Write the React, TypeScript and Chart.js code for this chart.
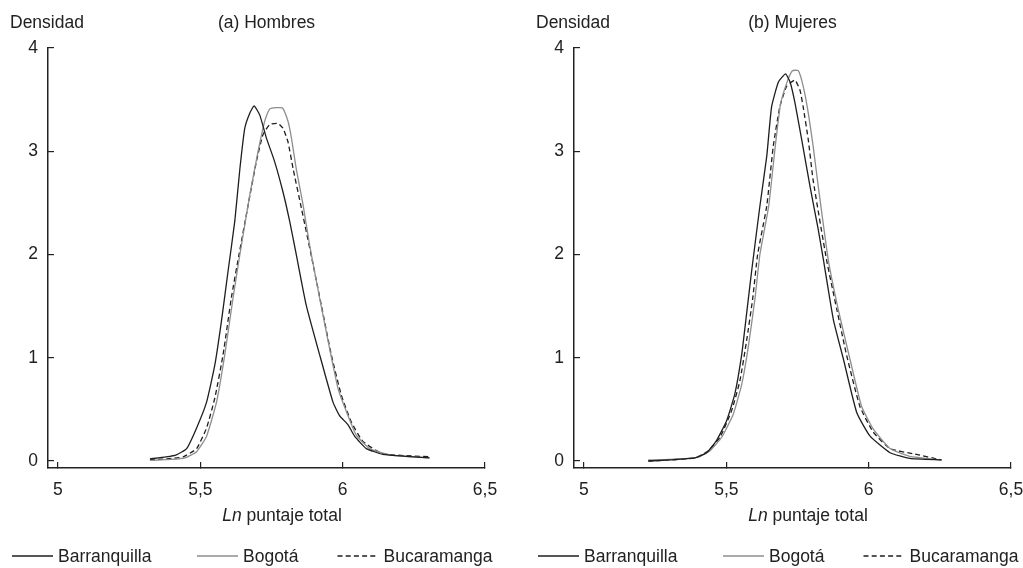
import React, { useEffect, useRef } from "react";
import { Chart, registerables } from "chart.js";

Chart.register(...registerables);

const FONT_FAMILY = "'Liberation Sans', Arial, sans-serif";
const FONT_SIZE = 17.5;
const TEXT_COLOR = "#222222";

const seriesNames = ["Barranquilla", "Bogotá", "Bucaramanga"];
const panelTitles = ["(a) Hombres", "(b) Mujeres"];
const yAxisLabel = "Densidad";
const xAxisLabelItalic = "Ln";
const xAxisLabelRest = " puntaje total";
const xTickValues = [5, 5.5, 6, 6.5];
const yTickValues = [0, 1, 2, 3, 4];

// (a) Hombres
const hombresBarranquillaX = [5.323, 5.38, 5.416, 5.452, 5.487, 5.522, 5.551, 5.574, 5.598, 5.621, 5.639, 5.656, 5.674, 5.689, 5.709, 5.732, 5.761, 5.79, 5.814, 5.837, 5.872, 5.919, 5.966, 5.989, 6.019, 6.042, 6.083, 6.141, 6.22, 6.305];
const hombresBarranquillaY = [0.02, 0.04, 0.06, 0.12, 0.32, 0.57, 0.93, 1.35, 1.85, 2.32, 2.83, 3.22, 3.37, 3.44, 3.35, 3.13, 2.9, 2.61, 2.32, 2.0, 1.51, 1.03, 0.57, 0.44, 0.35, 0.24, 0.12, 0.065, 0.045, 0.03];

const hombresBogotaX = [5.323, 5.4, 5.446, 5.487, 5.522, 5.557, 5.586, 5.615, 5.639, 5.674, 5.703, 5.726, 5.744, 5.788, 5.808, 5.82, 5.837, 5.861, 5.884, 5.919, 5.954, 5.984, 6.013, 6.048, 6.095, 6.165, 6.305];
const hombresBogotaY = [0.005, 0.015, 0.03, 0.09, 0.24, 0.57, 1.03, 1.58, 2.0, 2.58, 3.0, 3.29, 3.41, 3.42, 3.29, 3.13, 2.83, 2.48, 2.09, 1.58, 1.09, 0.7, 0.48, 0.25, 0.12, 0.06, 0.03];

const hombresBucaramangaX = [5.323, 5.4, 5.44, 5.487, 5.522, 5.551, 5.58, 5.609, 5.636, 5.668, 5.697, 5.72, 5.744, 5.773, 5.791, 5.808, 5.826, 5.855, 5.892, 5.925, 5.96, 5.995, 6.03, 6.071, 6.141, 6.305];
const hombresBucaramangaY = [0.01, 0.025, 0.04, 0.12, 0.32, 0.61, 1.03, 1.58, 2.0, 2.48, 2.9, 3.16, 3.26, 3.27, 3.22, 3.09, 2.83, 2.45, 1.96, 1.51, 1.03, 0.64, 0.38, 0.19, 0.07, 0.04];

// (b) Mujeres
const mujeresBarranquillaX = [5.226, 5.3, 5.39, 5.431, 5.466, 5.501, 5.53, 5.554, 5.571, 5.589, 5.618, 5.642, 5.659, 5.683, 5.708, 5.724, 5.741, 5.765, 5.794, 5.823, 5.841, 5.876, 5.911, 5.958, 6.005, 6.075, 6.145, 6.256];
const mujeresBarranquillaY = [0.0, 0.01, 0.03, 0.08, 0.2, 0.39, 0.65, 1.03, 1.42, 1.84, 2.47, 2.95, 3.43, 3.67, 3.75, 3.67, 3.47, 3.11, 2.66, 2.24, 1.95, 1.37, 0.99, 0.47, 0.24, 0.08, 0.025, 0.01];

const mujeresBogotaX = [5.226, 5.3, 5.396, 5.443, 5.484, 5.524, 5.554, 5.577, 5.601, 5.618, 5.649, 5.672, 5.69, 5.712, 5.732, 5.753, 5.77, 5.788, 5.805, 5.823, 5.858, 5.893, 5.934, 5.975, 6.016, 6.075, 6.145, 6.256];
const mujeresBogotaY = [0.01, 0.015, 0.035, 0.1, 0.23, 0.45, 0.74, 1.1, 1.58, 2.0, 2.47, 3.05, 3.45, 3.66, 3.78, 3.78, 3.63, 3.37, 3.05, 2.66, 1.95, 1.47, 0.99, 0.53, 0.31, 0.12, 0.045, 0.01];

const mujeresBucaramangaX = [5.226, 5.3, 5.39, 5.437, 5.478, 5.519, 5.548, 5.571, 5.593, 5.61, 5.642, 5.665, 5.688, 5.712, 5.741, 5.759, 5.77, 5.788, 5.805, 5.852, 5.888, 5.923, 5.969, 6.016, 6.075, 6.157, 6.256];
const mujeresBucaramangaY = [0.0, 0.01, 0.03, 0.1, 0.23, 0.49, 0.78, 1.16, 1.58, 2.0, 2.47, 3.05, 3.43, 3.63, 3.69, 3.59, 3.43, 3.11, 2.72, 1.95, 1.47, 1.02, 0.53, 0.28, 0.12, 0.07, 0.01];

const seriesColors = ["#1e1e1e", "#8e8e8e", "#1e1e1e"];
const seriesDashes: number[][] = [[], [], [5, 3.2]];

const panels = [
  {
    xs: [hombresBarranquillaX, hombresBogotaX, hombresBucaramangaX],
    ys: [hombresBarranquillaY, hombresBogotaY, hombresBucaramangaY],
  },
  {
    xs: [mujeresBarranquillaX, mujeresBogotaX, mujeresBucaramangaX],
    ys: [mujeresBarranquillaY, mujeresBogotaY, mujeresBucaramangaY],
  },
];

const fontNormal = `normal ${FONT_SIZE}px ${FONT_FAMILY}`;
const fontItalic = `italic ${FONT_SIZE}px ${FONT_FAMILY}`;

const legendOffsets = [-36, 149, 289.5];

const panelTextPlugin = {
  id: "panelText",
  afterDraw(chart: any) {
    const { ctx, chartArea } = chart;
    const L = chartArea.left;
    ctx.save();
    ctx.fillStyle = TEXT_COLOR;
    ctx.textBaseline = "middle";
    ctx.textAlign = "left";
    // y-axis label
    ctx.font = fontNormal;
    ctx.fillText(yAxisLabel, L - 38, chartArea.top - 25);
    // x-axis title (mixed italic)
    ctx.font = fontItalic;
    const w1 = ctx.measureText(xAxisLabelItalic).width;
    ctx.font = fontNormal;
    const w2 = ctx.measureText(xAxisLabelRest).width;
    const cx = L + 234;
    const sx = cx - (w1 + w2) / 2;
    const ty = chartArea.bottom + 48;
    ctx.font = fontItalic;
    ctx.fillText(xAxisLabelItalic, sx, ty);
    ctx.font = fontNormal;
    ctx.fillText(xAxisLabelRest, sx + w1, ty);
    // legend
    const ly = chartArea.bottom + 88;
    chart.data.datasets.forEach((ds: any, i: number) => {
      const x0 = L + legendOffsets[i];
      ctx.beginPath();
      ctx.strokeStyle = ds.borderColor;
      ctx.lineWidth = ds.borderWidth;
      ctx.setLineDash(ds.borderDash || []);
      ctx.moveTo(x0, ly);
      ctx.lineTo(x0 + 41, ly);
      ctx.stroke();
      ctx.setLineDash([]);
      ctx.fillText(ds.label, x0 + 46, ly + 1);
    });
    ctx.restore();
  },
};

function Panel({ index, left, width, yAxisWidth, padRight }: { index: number; left: number; width: number; yAxisWidth: number; padRight: number }) {
  const ref = useRef<HTMLCanvasElement>(null);
  useEffect(() => {
    const canvas = ref.current!;
    const p = panels[index];
    const tickFont = { family: FONT_FAMILY, size: FONT_SIZE, weight: "normal" as const, lineHeight: 1.2 };
    const chart = new Chart(canvas, {
      type: "line",
      data: {
        datasets: seriesNames.map((name, i) => ({
          label: name,
          data: p.xs[i].map((x, j) => ({ x, y: p.ys[i][j] })),
          borderColor: seriesColors[i],
          borderDash: seriesDashes[i],
          borderWidth: 1.3,
          pointRadius: 0,
          tension: 0.15,
          fill: false,
        })),
      },
      options: {
        responsive: false,
        animation: false,
        devicePixelRatio: 1,
        layout: { padding: { left: 0, right: padRight, top: 0, bottom: 40 } },
        plugins: {
          legend: { display: false },
          tooltip: { enabled: false },
          title: {
            display: true,
            text: panelTitles[index],
            fullSize: false,
            align: "center",
            color: TEXT_COLOR,
            font: tickFont,
            padding: { top: 12.5, bottom: 14.5 },
          },
        },
        scales: {
          x: {
            type: "linear",
            min: 4.965,
            max: 6.5,
            afterBuildTicks: (s: any) => {
              s.ticks = xTickValues.map((v) => ({ value: v }));
            },
            afterFit: (s: any) => {
              s.height = 60;
              s.paddingLeft = 0;
              s.paddingRight = 0;
            },
            ticks: {
              callback: (v: any) => String(v).replace(".", ","),
              color: TEXT_COLOR,
              font: tickFont,
              padding: 17.5,
              maxRotation: 0,
              autoSkip: false,
            },
            grid: { display: true, drawOnChartArea: false, drawTicks: true, tickLength: -6, color: "#222", lineWidth: 1.2 },
            border: { display: true, color: "#222", width: 1.5 },
          },
          y: {
            type: "linear",
            min: -0.068,
            max: 4,
            afterBuildTicks: (s: any) => {
              s.ticks = yTickValues.map((v) => ({ value: v }));
            },
            afterFit: (s: any) => {
              s.width = yAxisWidth;
            },
            ticks: {
              callback: (v: any) => String(v).replace(".", ","),
              color: TEXT_COLOR,
              font: tickFont,
              padding: 16,
              autoSkip: false,
            },
            grid: { display: true, drawOnChartArea: false, drawTicks: true, tickLength: -6, color: "#222", lineWidth: 1.2 },
            border: { display: true, color: "#222", width: 1.5 },
          },
        },
      },
      plugins: [panelTextPlugin],
    } as any);
    return () => chart.destroy();
  }, [index, yAxisWidth, padRight]);
  return (
    <canvas
      ref={ref}
      width={width}
      height={568}
      style={{ position: "absolute", left, top: 0, width, height: 568 }}
    />
  );
}

export default function App() {
  return (
    <div style={{ position: "absolute", left: 0, top: 0, width: 1023, height: 568, background: "#ffffff", overflow: "hidden" }}>
      <Panel index={0} left={0} width={520} yAxisWidth={48} padRight={35} />
      <Panel index={1} left={520} width={503} yAxisWidth={54} padRight={12} />
    </div>
  );
}
